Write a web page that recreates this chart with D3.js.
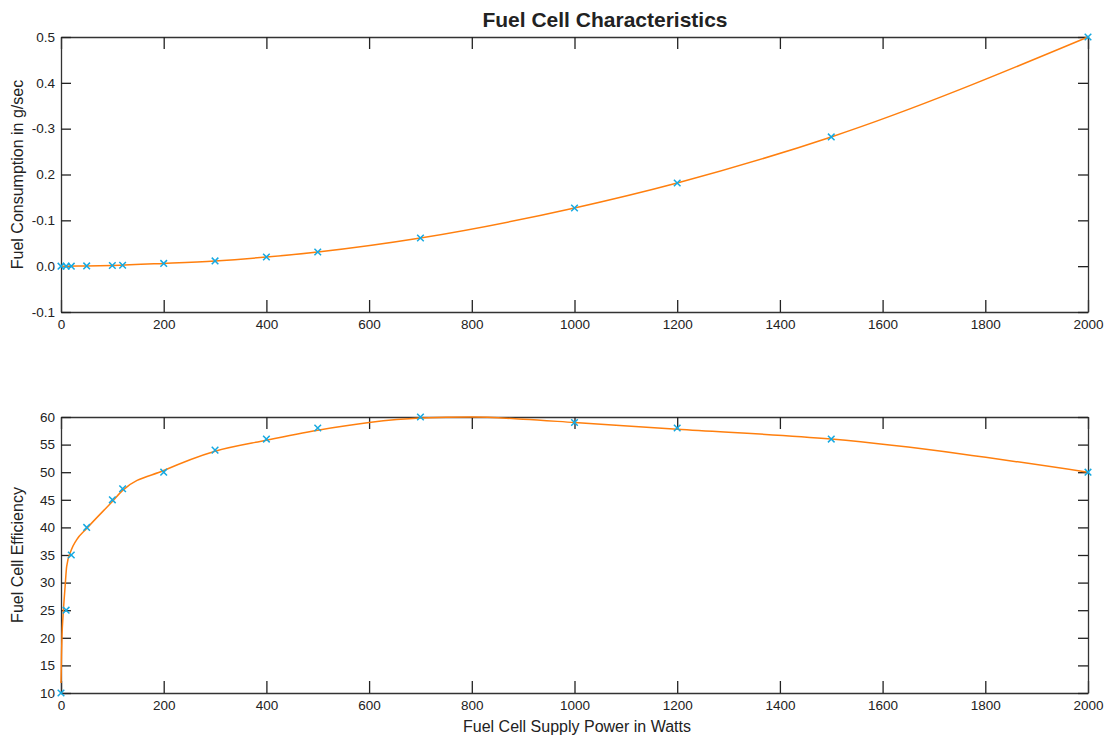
<!DOCTYPE html>
<html><head><meta charset="utf-8">
<script src="https://cdn.jsdelivr.net/npm/d3@7"></script>
<style>
body{margin:0;background:#fff;}
text{font-family:"Liberation Sans",Arial,sans-serif;fill:#222;}
</style></head>
<body><svg id="c" width="1111" height="736"></svg>
<script>
// ---- data ----
const power = [0, 10, 20, 50, 100, 120, 200, 300, 400, 500, 700, 1000, 1200, 1500, 2000];
const consumption = [0, 0, 0, 0.0005, 0.0015, 0.002, 0.006, 0.0115, 0.02, 0.031, 0.0615, 0.127, 0.1815, 0.282, 0.5];
const efficiency = [10, 25, 35, 40, 45, 47, 50, 54, 56, 58, 60, 59, 58, 56, 50];
// fitted efficiency curve
const fitPower = [0, 1, 2, 4, 8, 11, 20, 30, 50, 100, 120, 200, 300, 400, 500, 600, 700, 800, 900, 1000, 1200, 1500, 2000];
const fitEfficiency = [11.8, 17, 20.5, 24, 29.3, 32.9, 35.9, 37.7, 39.8, 44.7, 46.7, 50.3, 53.8, 55.8, 57.6, 59, 59.8, 60, 59.6, 59, 57.8, 56, 50];
// fitted consumption curve
const fitConsPower = [0, 50, 100, 200, 300, 400, 500, 700, 1000, 1200, 1500, 2000];
const fitConsumption = [0, 0.0005, 0.0015, 0.006, 0.0115, 0.02, 0.031, 0.0615, 0.127, 0.1815, 0.282, 0.5];
const xTicks = [0, 200, 400, 600, 800, 1000, 1200, 1400, 1600, 1800, 2000];
const topYTicks = [0.5, 0.4, 0.3, 0.2, 0.1, 0, -0.1];
const topYTickLabels = ["0.5", "0.4", "-0.3", "0.2", "-0.1", "0.0", "-0.1"];
const botYTicks = [60, 55, 50, 45, 40, 35, 30, 25, 20, 15, 10];

const svg = d3.select("#c");
const L = 61, R = 1088;
const lineColor = "#ff7f0e", markColor = "#16a9e1";

function panel(top, bottom, yDomain, yTicks, yFmt, px, py, curveX, curveY, ylabel) {
  const x = d3.scaleLinear().domain([0, 2000]).range([L, R]);
  const y = d3.scaleLinear().domain(yDomain).range([bottom, top]);
  const g = svg.append("g");
  const style = sel => {
    sel.select(".domain").attr("stroke", "#333").attr("stroke-width", 1.3);
    sel.selectAll(".tick line").attr("stroke", "#222").attr("stroke-width", 1.3);
    sel.selectAll("text").style("font-size", "13.5px").attr("fill", "#222");
  };
  g.append("g").attr("transform", `translate(0,${bottom})`)
    .call(d3.axisBottom(x).tickValues(xTicks).tickFormat(d3.format("d")).tickSize(-12).tickSizeOuter(0).tickPadding(7)).call(style);
  g.append("g").attr("transform", `translate(0,${top})`)
    .call(d3.axisTop(x).tickValues(xTicks).tickFormat("").tickSize(-12).tickSizeOuter(0)).call(style);
  g.append("g").attr("transform", `translate(${L},0)`)
    .call(d3.axisLeft(y).tickValues(yTicks).tickFormat(yFmt).tickSize(-10).tickSizeOuter(0).tickPadding(6)).call(style);
  g.append("g").attr("transform", `translate(${R},0)`)
    .call(d3.axisRight(y).tickValues(yTicks).tickFormat("").tickSize(-10).tickSizeOuter(0)).call(style);
  g.selectAll(".domain").attr("fill", "none");

  const line = d3.line().x(d => x(d[0])).y(d => y(d[1])).curve(d3.curveMonotoneX);
  g.append("path").datum(curveX.map((v, i) => [v, curveY[i]]))
    .attr("d", line).attr("fill", "none").attr("stroke", lineColor).attr("stroke-width", 1.5);

  const s = 3.3;
  g.selectAll(".m").data(px.map((v, i) => [v, py[i]])).enter().append("path")
    .attr("d", d => { const cx = x(d[0]), cy = y(d[1]);
      return `M${cx-s},${cy-s}L${cx+s},${cy+s}M${cx-s},${cy+s}L${cx+s},${cy-s}`; })
    .attr("stroke", markColor).attr("stroke-width", 1.5).attr("fill", "none");

  svg.append("text").attr("transform", `translate(23,${(top + bottom) / 2}) rotate(-90)`)
    .attr("text-anchor", "middle").style("font-size", "16px").text(ylabel);
  return { x, y };
}

panel(37, 312, [-0.1, 0.5], topYTicks, (d, i) => topYTickLabels[i], power, consumption, fitConsPower, fitConsumption, "Fuel Consumption in g/sec");
panel(417, 693, [10, 60], botYTicks, d3.format("d"), power, efficiency, fitPower, fitEfficiency, "Fuel Cell Efficiency");

svg.append("text").attr("x", 605).attr("y", 27).attr("text-anchor", "middle")
  .style("font-size", "21px").style("font-weight", "bold").attr("fill", "#111").text("Fuel Cell Characteristics");
svg.append("text").attr("x", 577).attr("y", 732).attr("text-anchor", "middle")
  .style("font-size", "16px").text("Fuel Cell Supply Power in Watts");
</script></body></html>
